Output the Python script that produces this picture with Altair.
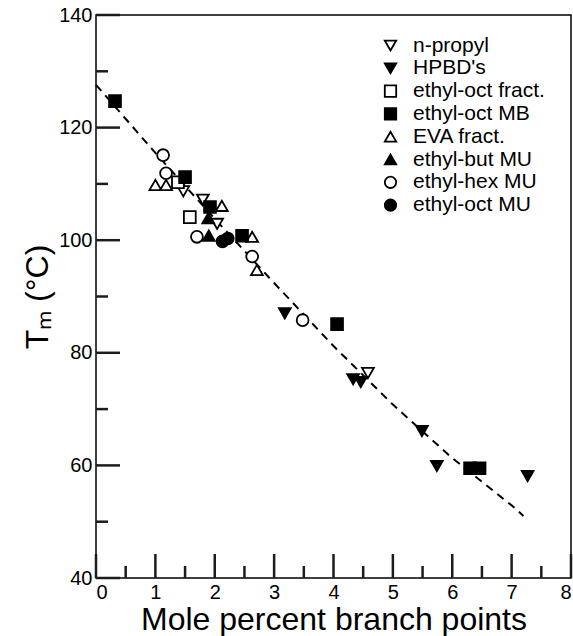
import altair as alt
import pandas as pd

# Melting temperature vs. branch content for the polymer series
series_names = ["n-propyl", "HPBD's", "ethyl-oct fract.", "ethyl-oct MB",
                "EVA fract.", "ethyl-but MU", "ethyl-hex MU", "ethyl-oct MU"]
series_shapes = ["triangle-down", "triangle-down", "square", "square",
                 "triangle-up", "triangle-up", "circle", "circle"]
series_fills = ["white", "black", "white", "black",
                "white", "black", "white", "black"]

n_propyl_x = [1.47, 1.80, 2.04, 4.58]
n_propyl_y = [108.7, 107.2, 102.9, 76.4]
hpbd_x = [3.18, 4.33, 4.46, 5.49, 5.74, 7.27]
hpbd_y = [87.0, 75.3, 74.8, 66.1, 59.9, 58.1]
eo_fract_x = [1.38, 1.58]
eo_fract_y = [110.3, 104.1]
eo_mb_x = [0.32, 1.50, 1.92, 2.46, 4.06, 6.30, 6.46]
eo_mb_y = [124.7, 111.2, 105.9, 100.8, 85.1, 59.5, 59.5]
eva_x = [1.00, 1.18, 2.12, 2.63, 2.71]
eva_y = [109.8, 109.8, 106.1, 100.6, 94.7]
eb_mu_x = [1.89, 1.90]
eb_mu_y = [103.9, 100.8]
eh_mu_x = [1.13, 1.18, 1.70, 2.63, 3.48]
eh_mu_y = [115.1, 111.9, 100.6, 97.1, 85.8]
eo_mu_x = [2.13, 2.22]
eo_mu_y = [99.8, 100.3]

# dashed fit curve
fit_x = [0.0, 1.0, 2.0, 3.0, 4.0, 5.0, 6.0, 7.0, 7.2]
fit_y = [127.6, 115.5, 103.8, 92.4, 81.2, 70.8, 61.3, 52.9, 51.0]

x_major = [0, 1, 2, 3, 4, 5, 6, 7, 8]
x_minor = [0.5, 1.5, 2.5, 3.5, 4.5, 5.5, 6.5, 7.5]
y_major = [40, 60, 80, 100, 120, 140]
y_minor = [50, 70, 90, 110, 130]

xs = [n_propyl_x, hpbd_x, eo_fract_x, eo_mb_x, eva_x, eb_mu_x, eh_mu_x, eo_mu_x]
ys = [n_propyl_y, hpbd_y, eo_fract_y, eo_mb_y, eva_y, eb_mu_y, eh_mu_y, eo_mu_y]

rows = []
for name, fill, sx, sy in zip(series_names, series_fills, xs, ys):
    for a, b in zip(sx, sy):
        rows.append({"series": name, "x": a, "y": b, "filled": fill == "black"})
points = pd.DataFrame(rows).sort_values("filled", kind="stable")

W, H = 475, 563
FONT = "Liberation Sans"
TICK_COLOR = "#1c1c1c"
xscale = alt.Scale(domain=[0, 8], nice=False, zero=False)
yscale = alt.Scale(domain=[40, 140], nice=False, zero=False)

legend = alt.Legend(
    title=None, orient="none", legendX=284, legendY=20,
    labelFontSize=21, labelFont=FONT, labelColor="black",
    labelOffset=12, rowPadding=0.8, symbolSize=130, symbolStrokeWidth=1.8,
)

pts = alt.Chart(points).mark_point(
    filled=True, size=140, strokeWidth=1.8, opacity=1
).encode(
    x=alt.X("x:Q", scale=xscale,
            axis=alt.Axis(values=x_major, format="d", title="Mole percent branch points")),
    y=alt.Y("y:Q", scale=yscale, axis=alt.Axis(values=y_major, title="Tₘ (°C)")),
    shape=alt.Shape("series:N", scale=alt.Scale(domain=series_names, range=series_shapes), legend=legend),
    fill=alt.Fill("series:N", scale=alt.Scale(domain=series_names, range=series_fills), legend=legend),
    stroke=alt.Stroke("series:N", scale=alt.Scale(domain=series_names, range=["black"] * 8), legend=legend),
)

fit = alt.Chart(pd.DataFrame({"x": fit_x, "y": fit_y})).mark_line(
    color="black", strokeWidth=2, strokeDash=[8, 6]
).encode(x=alt.X("x:Q", scale=xscale), y=alt.Y("y:Q", scale=yscale))


# inward ticks along the bottom and left edges of the frame
def xticks(vals, length):
    return alt.Chart(pd.DataFrame({"v": vals})).mark_rule(color=TICK_COLOR, strokeWidth=2.5).encode(
        x=alt.X("v:Q", scale=xscale), y=alt.value(H), y2=alt.value(H - length))


def yticks(vals, length):
    return alt.Chart(pd.DataFrame({"v": vals})).mark_rule(color=TICK_COLOR, strokeWidth=2.5).encode(
        y=alt.Y("v:Q", scale=yscale), x=alt.value(0), x2=alt.value(length))


chart = alt.layer(
    fit, pts,
    xticks(x_major, 24), xticks(x_minor, 12),
    yticks(y_major, 24), yticks(y_minor, 12),
).properties(
    width=W, height=H,
    autosize=alt.AutoSizeParams(type="none"),
    padding={"left": 96, "top": 15, "right": 2, "bottom": 58},
).configure_view(
    stroke="black", strokeWidth=1.5
).configure_axis(
    grid=False, domain=False, ticks=False,
    labelFont=FONT, labelFontSize=20, labelColor="black", labelPadding=4,
    titleFont=FONT, titleFontWeight="normal", titleColor="black",
).configure_axisX(titleFontSize=32, titlePadding=2
).configure_axisY(titleFontSize=32, titlePadding=4)

chart.save("out.html", embed_options={"renderer": "svg", "actions": False})
